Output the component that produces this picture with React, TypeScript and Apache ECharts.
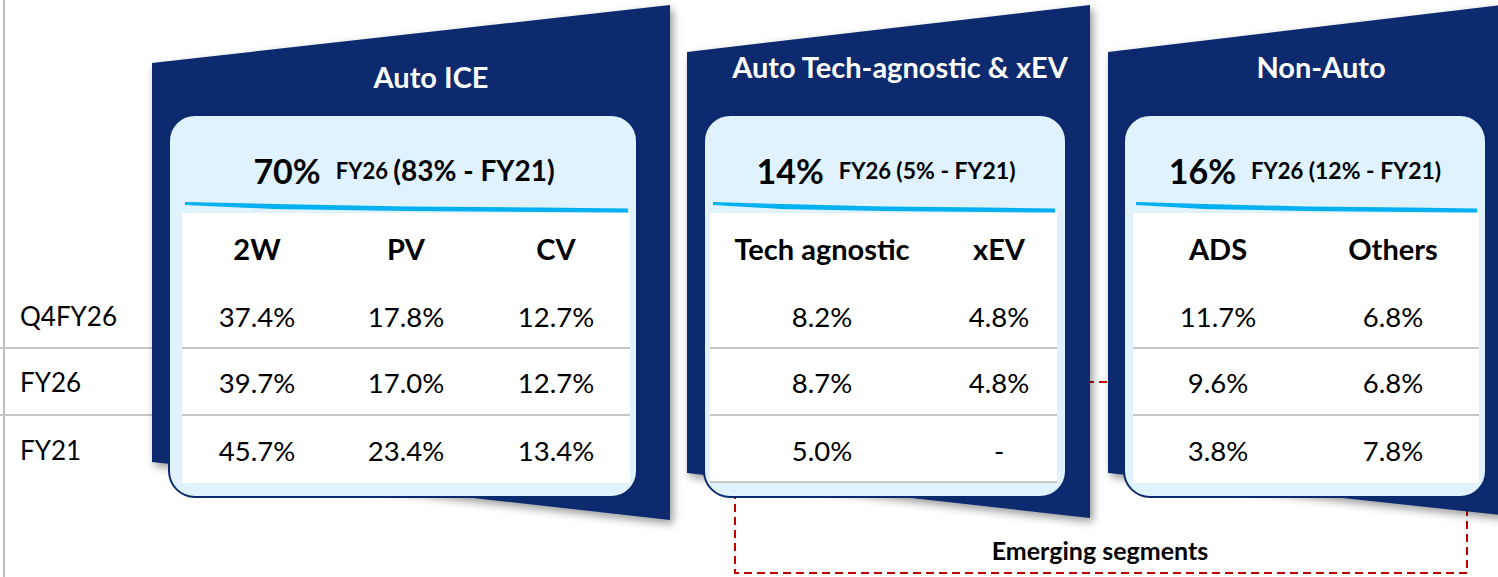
import React, { useEffect, useRef } from "react";
import * as echarts from "echarts";

// ---------------- DATA ----------------
const rowLabels = ["Q4FY26", "FY26", "FY21"];
const segments = ["Auto ICE", "Auto Tech-agnostic & xEV", "Non-Auto"];
const shareFY26 = [70, 14, 16];
const shareFY21 = [83, 5, 12];
const subSegments = [["2W", "PV", "CV"], ["Tech agnostic", "xEV"], ["ADS", "Others"]];
const valuesQ4FY26 = [37.4, 17.8, 12.7, 8.2, 4.8, 11.7, 6.8];
const valuesFY26 = [39.7, 17.0, 12.7, 8.7, 4.8, 9.6, 6.8];
const valuesFY21 = [45.7, 23.4, 13.4, 5.0, null, 3.8, 7.8];
const emergingLabel = "Emerging segments";

// ---------------- LAYOUT ----------------
const NAVY = "#0c2a6e";
const CARD = "#dff2fd";
const CYAN = "#00b0f0";
const GRID = "#c6c6c6";
const RED = "#c00000";
const FONT = "Lato, 'Open Sans', sans-serif";

const panels = [
  { pts: [[152, 63], [670, 5], [670, 520], [152, 462]], card: [169, 115, 468, 382], white: [182, 213, 448, 270], cols: [257, 406, 556], title: [431, 76], summary: 404, parenSize: 28, bottomLine: false },
  { pts: [[687, 52], [1090, 5], [1090, 518], [687, 473]], card: [704, 115, 362, 382], white: [710, 213, 347, 270], cols: [822, 999], title: [900, 66], summary: 886, parenSize: 23, bottomLine: true },
  { pts: [[1108, 52], [1510, 4], [1510, 516], [1108, 473]], card: [1124, 115, 362, 382], white: [1133, 213, 346, 270], cols: [1218, 1393], title: [1321, 66], summary: 1305, parenSize: 23, bottomLine: false },
];
const rowY = [316, 382, 450];
const lineY = [348, 415, 482];

const fmt = (v: number | null) => (v === null ? "-" : v.toFixed(1) + "%");

function txt(text: string, x: number, y: number, size: number, weight: string, fill = "#000", align = "center", z = 20) {
  return {
    type: "text",
    z,
    style: { text, x, y, fill, fontSize: size, fontWeight: weight, fontFamily: FONT, align, verticalAlign: "middle", textAlign: align, textVerticalAlign: "middle" },
  };
}

export default function App() {
  const ref = useRef<HTMLDivElement>(null);
  useEffect(() => {
    if (!ref.current) return;
    const chart = echarts.init(ref.current, undefined, { renderer: "svg" });
    const rows = [valuesQ4FY26, valuesFY26, valuesFY21];
    const els: any[] = [];

    // left vertical line
    els.push({ type: "line", z: 1, shape: { x1: 4, y1: 0, x2: 4, y2: 577 }, style: { stroke: "#bdbdbd", lineWidth: 2 } });
    // left row lines
    for (let i = 0; i < 2; i++) {
      els.push({ type: "line", z: 1, shape: { x1: 0, y1: lineY[i], x2: 153, y2: lineY[i] }, style: { stroke: GRID, lineWidth: 2 } });
    }
    rowLabels.forEach((l, i) => els.push(txt(l, 20, rowY[i], 26, "normal", "#000", "left")));

    // red dashed emerging box (behind panels)
    els.push({ type: "rect", z: 2, shape: { x: 735, y: 382, width: 732, height: 191 }, style: { fill: "none", stroke: RED, lineWidth: 2, lineDash: [8, 5] } });
    els.push(txt(emergingLabel, 1100, 550, 25, "bold"));

    let col = 0;
    panels.forEach((p, pi) => {
      els.push({ type: "polygon", z: 5, shape: { points: p.pts }, style: { fill: NAVY, shadowBlur: 8, shadowOffsetX: 3, shadowOffsetY: 4, shadowColor: "rgba(0,0,0,0.4)" } });
      const [cx, cy, cw, ch] = p.card;
      els.push({ type: "rect", z: 6, shape: { x: cx, y: cy, width: cw, height: ch, r: 26 }, style: { fill: CARD, stroke: NAVY, lineWidth: 2 } });
      const [wx, wy, ww, wh] = p.white;
      els.push({ type: "rect", z: 7, shape: { x: wx, y: wy, width: ww, height: wh }, style: { fill: "#fff" } });
      // cyan brush stroke
      const x0 = wx + 3, x1 = wx + ww - 2;
      const L = x1 - x0;
      els.push({
        type: "polygon", z: 8,
        shape: {
          points: [[x0, 202], [x0 + L * 0.2, 204], [x0 + L * 0.5, 206.5], [x0 + L * 0.8, 207.5], [x1, 208.5], [x1, 212.5], [x0 + L * 0.8, 212], [x0 + L * 0.5, 211], [x0 + L * 0.2, 209], [x0, 205]],
        },
        style: { fill: CYAN },
      });
      els.push(txt(segments[pi], p.title[0], p.title[1], 29, "bold", "#fff"));
      els.push({
        type: "text", z: 20,
        style: {
          text: `{a|${shareFY26[pi]}%}{b|FY26 }{c|(${shareFY21[pi]}% - FY21)}`,
          x: p.summary, y: 170, align: "center", verticalAlign: "middle", textAlign: "center", textVerticalAlign: "middle",
          rich: {
            a: { fontSize: 34, fontWeight: "bold", fontFamily: FONT, fill: "#000" },
            b: { fontSize: 22, fontWeight: "bold", fontFamily: FONT, fill: "#000", padding: [0, 0, 0, 15] },
            c: { fontSize: p.parenSize, fontWeight: "bold", fontFamily: FONT, fill: "#000" },
          },
        },
      });
      subSegments[pi].forEach((s, si) => {
        const x = p.cols[si];
        els.push(txt(s, x, 248, 29, "bold"));
        rows.forEach((r, ri) => els.push(txt(fmt(r[col]), x, rowY[ri], 27.5, "normal")));
        col++;
      });
      const nLines = p.bottomLine ? 3 : 2;
      for (let i = 0; i < nLines; i++) {
        els.push({ type: "line", z: 9, shape: { x1: wx, y1: lineY[i], x2: wx + ww, y2: lineY[i] }, style: { stroke: GRID, lineWidth: 2 } });
      }
    });

    chart.setOption({ animation: false, backgroundColor: "#fff", graphic: { elements: els } });
    return () => chart.dispose();
  }, []);
  return <div ref={ref} style={{ position: "fixed", left: 0, top: 0, width: 1498, height: 577 }} />;
}
